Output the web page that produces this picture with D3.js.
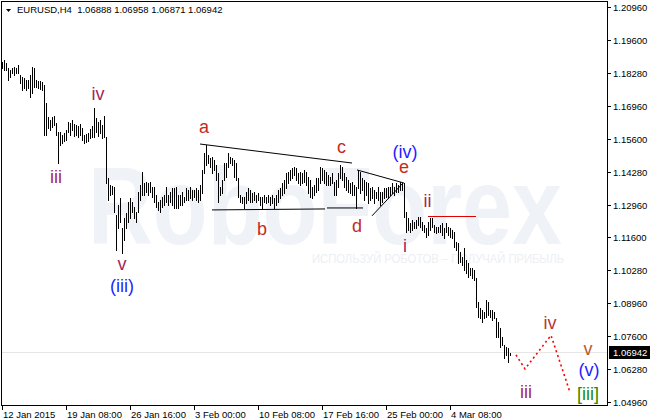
<!DOCTYPE html>
<html>
<head>
<meta charset="utf-8">
<script src="https://cdnjs.cloudflare.com/ajax/libs/d3/7.8.5/d3.min.js"></script>
<style>
  body { margin: 0; background: #fff; }
  svg { display: block; }
</style>
</head>
<body>
<svg id="chart" width="650" height="420"></svg>
<script>
// EURUSD H4 bars, 12 Jan 2015 .. 6 Mar 2015 (high / low per bar)
var highs = [
  1.1873, 1.1881, 1.1869, 1.1849, 1.1841, 1.1849, 1.1853, 1.1849, 1.1861, 1.1821,
  1.1813, 1.1808, 1.1800, 1.1800, 1.1821, 1.1853, 1.1849, 1.1800, 1.1796, 1.1796,
  1.1792, 1.1780, 1.1707, 1.1650, 1.1638, 1.1650, 1.1654, 1.1626, 1.1590, 1.1590,
  1.1578, 1.1586, 1.1598, 1.1630, 1.1626, 1.1638, 1.1622, 1.1618, 1.1614, 1.1622,
  1.1606, 1.1578, 1.1582, 1.1586, 1.1602, 1.1614, 1.1687, 1.1646, 1.1630, 1.1638,
  1.1618, 1.1654, 1.1569, 1.1403, 1.1375, 1.1371, 1.1367, 1.1254, 1.1294, 1.1322,
  1.1201, 1.1241, 1.1262, 1.1306, 1.1322, 1.1306, 1.1286, 1.1266, 1.1347, 1.1375,
  1.1428, 1.1383, 1.1387, 1.1383, 1.1387, 1.1367, 1.1367, 1.1335, 1.1306, 1.1314,
  1.1327, 1.1335, 1.1367, 1.1335, 1.1347, 1.1363, 1.1363, 1.1367, 1.1335, 1.1335,
  1.1347, 1.1327, 1.1363, 1.1355, 1.1367, 1.1355, 1.1355, 1.1363, 1.1355, 1.1375,
  1.1436, 1.1505, 1.1537, 1.1497, 1.1484, 1.1488, 1.1476, 1.1456, 1.1424, 1.1367,
  1.1395, 1.1464, 1.1464, 1.1505, 1.1488, 1.1484, 1.1476, 1.1464, 1.1403, 1.1335,
  1.1327, 1.1327, 1.1347, 1.1363, 1.1355, 1.1343, 1.1347, 1.1335, 1.1343, 1.1327,
  1.1327, 1.1335, 1.1327, 1.1335, 1.1327, 1.1335, 1.1322, 1.1335, 1.1355, 1.1363,
  1.1383, 1.1395, 1.1424, 1.1428, 1.1436, 1.1444, 1.1448, 1.1444, 1.1424, 1.1428,
  1.1424, 1.1436, 1.1428, 1.1408, 1.1395, 1.1367, 1.1375, 1.1403, 1.1403, 1.1448,
  1.1444, 1.1436, 1.1428, 1.1416, 1.1408, 1.1424, 1.1387, 1.1395, 1.1424, 1.1456,
  1.1448, 1.1424, 1.1408, 1.1395, 1.1383, 1.1387, 1.1375, 1.1367, 1.1436, 1.1428,
  1.1403, 1.1395, 1.1387, 1.1383, 1.1363, 1.1367, 1.1355, 1.1347, 1.1367, 1.1347,
  1.1347, 1.1363, 1.1363, 1.1367, 1.1367, 1.1383, 1.1367, 1.1383, 1.1375, 1.1387,
  1.1383, 1.1383, 1.1266, 1.1241, 1.1221, 1.1233, 1.1225, 1.1233, 1.1245, 1.1245,
  1.1225, 1.1213, 1.1201, 1.1225, 1.1241, 1.1241, 1.1213, 1.1205, 1.1205, 1.1213,
  1.1221, 1.1201, 1.1221, 1.1205, 1.1201, 1.1193, 1.1185, 1.1144, 1.1140, 1.1104,
  1.1083, 1.1120, 1.1071, 1.1059, 1.1039, 1.1039, 1.1031, 1.0998, 1.0901, 1.0877,
  1.0869, 1.0861, 1.0909, 1.0901, 1.0869, 1.0869, 1.0861, 1.0836, 1.0820, 1.0796,
  1.0760, 1.0727, 1.0719, 1.0715, 1.06958
]
var lows = [
  1.1849, 1.1841, 1.1841, 1.1800, 1.1813, 1.1829, 1.1821, 1.1829, 1.1829, 1.1788,
  1.1760, 1.1768, 1.1760, 1.1768, 1.1732, 1.1748, 1.1772, 1.1772, 1.1768, 1.1764,
  1.1760, 1.1578, 1.1578, 1.1606, 1.1598, 1.1610, 1.1618, 1.1578, 1.1464, 1.1537,
  1.1545, 1.1553, 1.1557, 1.1590, 1.1578, 1.1598, 1.1573, 1.1578, 1.1569, 1.1578,
  1.1557, 1.1545, 1.1549, 1.1553, 1.1565, 1.1569, 1.1569, 1.1590, 1.1573, 1.1586,
  1.1565, 1.1569, 1.1383, 1.1314, 1.1335, 1.1339, 1.1266, 1.1112, 1.1201, 1.1225,
  1.1100, 1.1152, 1.1201, 1.1225, 1.1241, 1.1266, 1.1241, 1.1225, 1.1266, 1.1314,
  1.1335, 1.1335, 1.1347, 1.1335, 1.1347, 1.1327, 1.1306, 1.1286, 1.1274, 1.1266,
  1.1286, 1.1294, 1.1306, 1.1294, 1.1306, 1.1294, 1.1282, 1.1282, 1.1282, 1.1294,
  1.1294, 1.1306, 1.1314, 1.1314, 1.1322, 1.1314, 1.1327, 1.1314, 1.1306, 1.1314,
  1.1343, 1.1424, 1.1456, 1.1464, 1.1448, 1.1424, 1.1436, 1.1395, 1.1306, 1.1335,
  1.1343, 1.1395, 1.1408, 1.1448, 1.1464, 1.1456, 1.1408, 1.1395, 1.1327, 1.1306,
  1.1302, 1.1282, 1.1302, 1.1314, 1.1306, 1.1306, 1.1314, 1.1306, 1.1314, 1.1294,
  1.1282, 1.1306, 1.1302, 1.1306, 1.1294, 1.1302, 1.1282, 1.1294, 1.1306, 1.1322,
  1.1335, 1.1343, 1.1363, 1.1383, 1.1395, 1.1403, 1.1416, 1.1395, 1.1383, 1.1375,
  1.1383, 1.1387, 1.1375, 1.1343, 1.1327, 1.1322, 1.1335, 1.1347, 1.1355, 1.1383,
  1.1395, 1.1383, 1.1375, 1.1375, 1.1375, 1.1383, 1.1335, 1.1335, 1.1367, 1.1403,
  1.1395, 1.1367, 1.1355, 1.1347, 1.1343, 1.1335, 1.1335, 1.1282, 1.1363, 1.1343,
  1.1355, 1.1314, 1.1335, 1.1302, 1.1314, 1.1322, 1.1302, 1.1322, 1.1314, 1.1294,
  1.1306, 1.1322, 1.1327, 1.1322, 1.1335, 1.1343, 1.1335, 1.1347, 1.1347, 1.1355,
  1.1355, 1.1245, 1.1185, 1.1193, 1.1185, 1.1193, 1.1201, 1.1201, 1.1213, 1.1205,
  1.1193, 1.1185, 1.1164, 1.1173, 1.1193, 1.1205, 1.1185, 1.1181, 1.1185, 1.1185,
  1.1173, 1.1160, 1.1185, 1.1173, 1.1164, 1.1160, 1.1124, 1.1112, 1.1059, 1.1063,
  1.1051, 1.1031, 1.1019, 1.1002, 1.1011, 1.0998, 1.0990, 1.0881, 1.0840, 1.0836,
  1.0820, 1.0836, 1.0840, 1.0849, 1.0840, 1.0828, 1.0836, 1.0760, 1.0760, 1.0719,
  1.0727, 1.0675, 1.0687, 1.0658, 1.06871
]
var lastBar = { open: 1.06888, high: 1.06958, low: 1.06871, close: 1.06942 }

var priceLabels = ["1.20960", "1.19600", "1.18280", "1.16960", "1.15600", "1.14280", "1.12960",
                   "1.11600", "1.10280", "1.08960", "1.07600", "1.06280", "1.04960"]
var dateTickBars = [0, 32, 64, 96, 128, 160, 192, 224]
var dateLabels = ["12 Jan 2015", "19 Jan 08:00", "26 Jan 16:00", "3 Feb 00:00",
                  "10 Feb 08:00", "17 Feb 16:00", "25 Feb 00:00", "4 Mar 08:00"]

// triangle a-b-c-d-e (bar index, price)
var triangleLines = [
  [[99, 1.1541], [175, 1.1464]],
  [[177.5, 1.1436], [201, 1.1383]],
  [[105, 1.1274], [161.5, 1.1278]],
  [[162.5, 1.1282], [180.5, 1.1282]],
  [[185, 1.1250], [200.5, 1.1383]]
]
var waveIILine = [[213, 1.1249], [237, 1.1249]]
var forecast = [[257, 1.0687], [261.5, 1.0630], [274.5, 1.0766], [284, 1.0535]]

var waveLabels = [
  { t: "iii",   i: 27,    p: 1.1383, c: "#a3285c" },
  { t: "iv",    i: 48,    p: 1.1719, c: "#a3285c" },
  { t: "v",     i: 60,    p: 1.1031, c: "#a3285c" },
  { t: "(iii)", i: 60,    p: 1.0942, c: "#1f1fff" },
  { t: "a",     i: 101,   p: 1.1586, c: "#c42a1e" },
  { t: "b",     i: 130,   p: 1.1173, c: "#c42a1e" },
  { t: "c",     i: 169.75, p: 1.1505, c: "#c42a1e" },
  { t: "d",     i: 177.5, p: 1.1185, c: "#c42a1e" },
  { t: "e",     i: 201,   p: 1.1424, c: "#c42a1e" },
  { t: "(iv)",  i: 201.5, p: 1.1484, c: "#1f1fff" },
  { t: "i",     i: 201.5, p: 1.1104, c: "#a3285c" },
  { t: "ii",    i: 212.75, p: 1.1286, c: "#a3285c" },
  { t: "iii",   i: 262,   p: 1.0512, c: "#a3285c" },
  { t: "iv",    i: 274,   p: 1.0792, c: "#b8363c" },
  { t: "v",     i: 293,   p: 1.0687, c: "#bb5a28" },
  { t: "(v)",   i: 293.5, p: 1.0602, c: "#1f1fff" },
  { t: "[iii]", i: 293,   p: 1.0504, c: "#2a8a00" }
]

var svg = d3.select("#chart")
var font = "'Liberation Sans', Arial, sans-serif"

var x = d3.scaleLinear()
    .domain([0, highs.length - 1])
    .range([2, 2 + 2 * (highs.length - 1)])
var y = d3.scaleLinear()
    .domain([1.0496, 1.2096])
    .range([402, 7])
// MT4 puts the grid labels at equal pixel steps
var yLab = d3.scalePoint()
    .domain(priceLabels)
    .range([7, 402])

// watermark
var wm = svg.append("g").attr("class", "watermark")
wm.append("text")
    .attr("x", 88)
    .attr("y", 244)
    .attr("textLength", 474)
    .attr("lengthAdjust", "spacingAndGlyphs")
    .style("font-family", font)
    .style("font-size", "110px")
    .style("font-weight", "bold")
    .style("fill", "#eff2f7")
    .text("RoboForex")
wm.append("text")
    .attr("x", 312)
    .attr("y", 263)
    .attr("textLength", 252)
    .attr("lengthAdjust", "spacingAndGlyphs")
    .style("font-family", font)
    .style("font-size", "13px")
    .style("fill", "#eceff4")
    .text("ИСПОЛЬЗУЙ РОБОТОВ – ПОЛУЧАЙ ПРИБЫЛЬ")

// current price line
svg.append("line")
    .attr("x1", 2).attr("x2", 607)
    .attr("y1", Math.round(y(lastBar.close)) - 0.5)
    .attr("y2", Math.round(y(lastBar.close)) - 0.5)
    .attr("stroke", "#e6e6e6")

// bars
var bars = highs.map(function(h, i) { return { i: i, h: h, l: lows[i] } })
svg.append("g")
    .attr("class", "bars")
    .selectAll("line")
    .data(bars)
    .enter().append("line")
    .attr("x1", function(d) { return Math.round(x(d.i)) + 0.5 })
    .attr("x2", function(d) { return Math.round(x(d.i)) + 0.5 })
    .attr("y1", function(d) { return Math.round(y(d.h)) })
    .attr("y2", function(d) { return Math.round(y(d.l)) + 1 })
    .attr("stroke", "#000")
    .attr("stroke-width", 1)
    .attr("shape-rendering", "crispEdges")

var lineGen = d3.line()
    .x(function(d) { return x(d[0]) })
    .y(function(d) { return y(d[1]) })

svg.append("g")
    .attr("class", "triangle")
    .selectAll("path")
    .data(triangleLines)
    .enter().append("path")
    .attr("d", lineGen)
    .attr("fill", "none")
    .attr("stroke", "#000")
    .attr("stroke-width", 1)

svg.append("path")
    .attr("d", lineGen(waveIILine))
    .attr("fill", "none")
    .attr("stroke", "#e00000")
    .attr("stroke-width", 1)
    .attr("shape-rendering", "crispEdges")

svg.append("path")
    .attr("d", lineGen(forecast))
    .attr("fill", "none")
    .attr("stroke", "#ff0000")
    .attr("stroke-width", 1.6)
    .attr("stroke-dasharray", "2,3")

svg.append("g")
    .attr("class", "waves")
    .selectAll("text")
    .data(waveLabels)
    .enter().append("text")
    .attr("x", function(d) { return x(d.i) })
    .attr("y", function(d) { return y(d.p) })
    .attr("text-anchor", "middle")
    .style("font-family", font)
    .style("font-size", "18px")
    .style("fill", function(d) { return d.c })
    .text(function(d) { return d.t })

// frame
svg.append("rect")
    .attr("x", 1.5).attr("y", 1.5)
    .attr("width", 606).attr("height", 404)
    .attr("fill", "none")
    .attr("stroke", "#000")
    .attr("shape-rendering", "crispEdges")

// price axis
var pa = svg.append("g").attr("class", "price-axis")
pa.selectAll("line")
    .data(priceLabels)
    .enter().append("line")
    .attr("x1", 607).attr("x2", 611)
    .attr("y1", function(d) { return Math.round(yLab(d)) + 0.5 })
    .attr("y2", function(d) { return Math.round(yLab(d)) + 0.5 })
    .attr("stroke", "#000")
pa.selectAll("text")
    .data(priceLabels)
    .enter().append("text")
    .attr("x", 613)
    .attr("y", function(d) { return Math.round(yLab(d)) + 4 })
    .style("font-family", font)
    .style("font-size", "9.5px")
    .style("fill", "#000")
    .text(function(d) { return d })

// last price box
var py = Math.round(y(lastBar.close))
svg.append("rect")
    .attr("x", 609).attr("y", py - 7)
    .attr("width", 41).attr("height", 13)
    .attr("fill", "#000")
svg.append("text")
    .attr("x", 613)
    .attr("y", py + 3)
    .style("font-family", font)
    .style("font-size", "9.5px")
    .style("fill", "#fff")
    .text(lastBar.close.toFixed(5))

// time axis
var ta = svg.append("g").attr("class", "time-axis")
ta.selectAll("line")
    .data(dateTickBars)
    .enter().append("line")
    .attr("x1", function(d) { return Math.round(x(d)) + 0.5 })
    .attr("x2", function(d) { return Math.round(x(d)) + 0.5 })
    .attr("y1", 405).attr("y2", 410)
    .attr("stroke", "#000")
ta.selectAll("text")
    .data(dateTickBars)
    .enter().append("text")
    .attr("x", function(d) { return Math.round(x(d)) + 1 })
    .attr("y", 418)
    .style("font-family", font)
    .style("font-size", "9.5px")
    .style("fill", "#000")
    .text(function(d, i) { return dateLabels[i] })

// header
svg.append("path")
    .attr("d", "M6,9L11,9L8.5,12Z")
    .attr("fill", "#000")
svg.append("text")
    .attr("x", 17)
    .attr("y", 13)
    .style("font-family", font)
    .style("font-size", "9.5px")
    .style("fill", "#000")
    .style("white-space", "pre")
    .text("EURUSD,H4  " + [lastBar.open, lastBar.high, lastBar.low, lastBar.close]
        .map(function(v) { return v.toFixed(5) }).join(" "))
</script>
</body>
</html>
